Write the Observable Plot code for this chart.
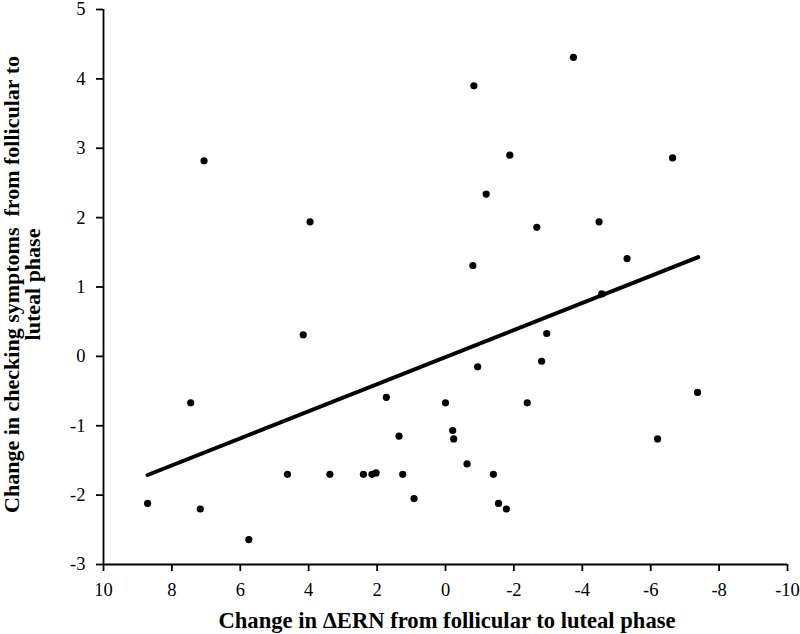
<!DOCTYPE html>
<html>
<head>
<meta charset="utf-8">
<script src="https://cdn.jsdelivr.net/npm/d3@7"></script>
<script src="https://cdn.jsdelivr.net/npm/@observablehq/plot@0.6"></script>
<style>
  body { margin: 0; background: #fff; }
  #chart svg { display: block; }
</style>
</head>
<body>
<div id="chart"></div>
<script>
// Change in ΔERN (x) vs change in checking symptoms (y)
const ernChange = [
  7.06, 3.96,
  -3.74, -0.83, -1.88, -6.64, -1.19, -2.67, -4.49, -5.31, -0.80, -4.57,
  4.16, 7.45, 1.73, 0.00, 1.36, 8.71, 7.17, 5.75, 4.62, 3.38, 2.40, 2.15, 2.03, 1.25, 0.92,
  -0.21, -0.24, -0.63, -0.94, -1.40, -1.55, -1.78, -2.39, -2.81, -2.96, -6.20, -7.37
];
const symptomChange = [
  2.82, 1.94,
  4.31, 3.90, 2.90, 2.86, 2.34, 1.86, 1.94, 1.41, 1.31, 0.90,
  0.31, -0.67, -0.59, -0.67, -1.15, -2.12, -2.20, -2.64, -1.70, -1.70, -1.70, -1.70, -1.68, -1.70, -2.05,
  -1.07, -1.19, -1.55, -0.15, -1.70, -2.12, -2.20, -0.67, -0.07, 0.33, -1.19, -0.52
];
// Trend line as drawn in the figure (endpoints)
const trendX = [8.71, -7.39];
const trendY = [-1.71, 1.43];

const xDomain = [10, -10];
const yDomain = [-3, 5];
const xTicks = [10, 8, 6, 4, 2, 0, -2, -4, -6, -8, -10];
const yTicks = [-3, -2, -1, 0, 1, 2, 3, 4, 5];
const xTitle = "Change in \u0394ERN from follicular to luteal phase";
const yTitleLines = ["Change in checking symptoms  from follicular to", "luteal phase"];

const data = ernChange.map((x, i) => ({x, y: symptomChange[i]}));
const trend = trendX.map((x, i) => ({x, y: trendY[i]}));

const W = 800, H = 634;
const margin = {top: 9, right: 13, bottom: 70, left: 103};
const SERIF = "'Liberation Serif', 'Times New Roman', serif";

const chart = Plot.plot({
  width: W,
  height: H,
  marginTop: margin.top,
  marginRight: margin.right,
  marginBottom: margin.bottom,
  marginLeft: margin.left,
  style: {fontFamily: SERIF, fontSize: "18.5px", color: "#000", background: "#fff"},
  x: {domain: xDomain, ticks: xTicks, tickFormat: d => String(d), tickSize: 7, tickPadding: 11, label: null},
  y: {domain: yDomain, ticks: yTicks, tickFormat: d => String(d), tickSize: 7, tickPadding: 11, label: null},
  marks: [
    Plot.ruleX([xDomain[0]], {stroke: "#000", strokeWidth: 1.8}),
    Plot.ruleY([yDomain[0]], {stroke: "#000", strokeWidth: 1.8}),
    Plot.line(trend, {x: "x", y: "y", stroke: "#000", strokeWidth: 4}),
    Plot.dot(data, {x: "x", y: "y", r: 3.6, fill: "#000", stroke: "none"})
  ]
});

const svg = d3.select(chart);
svg.selectAll("text").style("font-size", "18.5px").style("font-family", SERIF).style("fill", "#000");
svg.selectAll("g[aria-label$='tick'] path").attr("stroke-width", 1.8).attr("stroke", "#000");

// Axis titles
svg.append("text")
  .attr("x", 447)
  .attr("y", 628)
  .attr("text-anchor", "middle")
  .attr("font-weight", "bold")
  .style("font-size", "22.6px")
  .style("font-family", SERIF)
  .attr("fill", "#000")
  .text(xTitle);

const yMid = margin.top + (H - margin.top - margin.bottom) / 2;
yTitleLines.forEach((line, i) => {
  svg.append("text")
    .attr("transform", `translate(${19 + i * 21},${yMid - 2}) rotate(-90)`)
    .attr("text-anchor", "middle")
    .attr("font-weight", "bold")
    .style("font-size", "22px")
    .style("font-family", SERIF)
    .attr("fill", "#000")
    .text(line);
});

document.getElementById("chart").append(chart);
</script>
</body>
</html>
